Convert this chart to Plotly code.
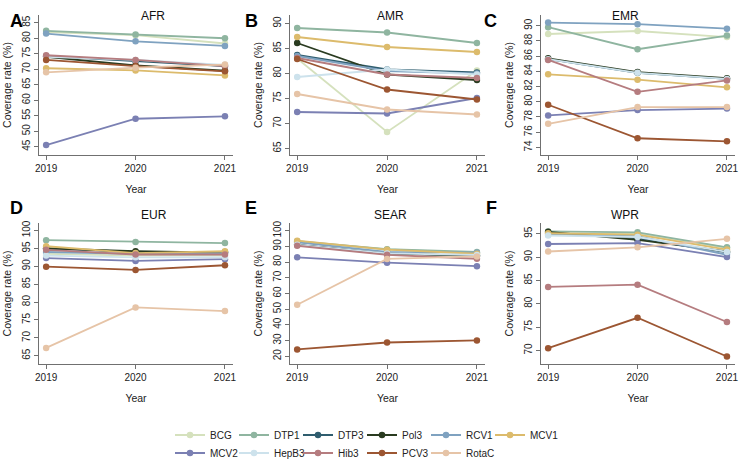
import plotly.graph_objects as go

years = [2019, 2020, 2021]
vaccines = ["BCG", "DTP1", "DTP3", "Pol3", "RCV1", "MCV1", "MCV2", "HepB3", "Hib3", "PCV3", "RotaC"]
colors = ["#d5e1bd", "#8fb5a0", "#2f5d6e", "#2a3b20", "#7fa2c0", "#dcbb6c",
          "#7b80b3", "#cde2ec", "#b57c7f", "#9c5632", "#e6c4a7"]
regions = ["AFR", "AMR", "EMR", "EUR", "SEAR", "WPR"]
letters = ["A", "B", "C", "D", "E", "F"]

# values per region, rows in the order of `vaccines`
AFR = [[82.0, 81.0, 78.3], [82.4, 81.2, 80.0], [74.2, 72.6, 71.0], [74.0, 71.2, 69.5],
       [81.5, 79.0, 77.5], [70.3, 69.6, 68.0], [45.5, 54.0, 54.8], [74.0, 73.0, 71.4],
       [74.5, 73.0, 71.0], [73.0, 71.0, 69.3], [69.0, 70.5, 71.5]]
AMR = [[83.0, 68.3, 80.6], [89.1, 88.2, 86.1], [83.7, 80.8, 80.2], [86.1, 79.8, 78.7],
       [83.5, 80.5, 80.0], [87.3, 85.3, 84.3], [72.3, 72.0, 75.1], [79.3, 80.8, 79.8],
       [83.1, 79.8, 79.1], [82.9, 76.8, 74.8], [75.9, 72.8, 71.8]]
EMR = [[88.9, 89.3, 88.5], [89.8, 86.9, 88.7], [85.6, 83.8, 83.0], [85.7, 83.9, 83.1],
       [90.4, 90.2, 89.6], [83.6, 82.9, 81.9], [78.2, 78.9, 79.1], [85.6, 83.8, 83.0],
       [85.5, 81.3, 82.8], [79.6, 75.2, 74.8], [77.1, 79.3, 79.3]]
EUR = [[93.5, 93.0, 93.0], [97.3, 96.8, 96.5], [95.0, 94.0, 94.0], [95.0, 94.2, 93.8],
       [94.0, 93.5, 93.7], [95.6, 93.7, 94.2], [92.3, 91.5, 92.0], [93.0, 92.5, 92.5],
       [94.6, 93.3, 93.3], [89.9, 89.0, 90.3], [67.2, 78.5, 77.5]]
SEAR = [[93.0, 88.0, 85.8], [93.3, 88.2, 86.4], [91.0, 85.5, 84.0], [91.0, 85.5, 84.0],
        [92.5, 86.5, 86.0], [93.6, 87.9, 85.3], [83.0, 79.6, 77.4], [91.0, 85.5, 84.5],
        [90.4, 84.6, 82.1], [24.3, 28.7, 30.0], [52.8, 82.0, 83.6]]
WPR = [[95.0, 95.0, 92.0], [95.5, 95.3, 92.1], [95.2, 94.0, 91.0], [95.4, 93.7, 91.2],
       [94.8, 94.5, 90.5], [95.1, 94.8, 91.6], [92.8, 93.0, 90.0], [94.6, 94.3, 91.1],
       [83.6, 84.1, 76.1], [70.5, 77.0, 68.7], [91.2, 92.1, 93.9]]
region_values = [AFR, AMR, EMR, EUR, SEAR, WPR]

y_ranges = [[42.3, 87.5], [63.7, 91.7], [73.0, 91.4], [62.7, 102.1], [15.0, 104.9], [67.1, 97.3]]
y_dticks = [5, 5, 2, 5, 10, 5]
y_tick0 = [45, 65, 74, 65, 20, 70]

W, H = 739, 471
x_dom_px = [(39, 233), (290, 485), (541, 735)]
y_dom_px = [(15, 155), (223, 364)]

FONT = "Liberation Sans, Arial, Helvetica, sans-serif"
fig = go.Figure()
annotations = []
for i, reg in enumerate(regions):
    r, c = divmod(i, 3)
    ax = "" if i == 0 else str(i + 1)
    x0, x1 = x_dom_px[c]
    yt, yb = y_dom_px[r]
    xdom = [x0 / W, x1 / W]
    ydom = [1 - yb / H, 1 - yt / H]
    vals = region_values[i]
    for k, vac in enumerate(vaccines):
        fig.add_trace(go.Scatter(
            x=years, y=vals[k], mode="lines+markers", name=vac,
            line=dict(color=colors[k], width=1.8),
            marker=dict(color=colors[k], size=6.5),
            xaxis="x" + ax, yaxis="y" + ax,
            showlegend=(i == 0),
            legend="legend" if k < 6 else "legend2",
            legendgroup=vac,
        ))
    axis_common = dict(showline=True, linecolor="#707070", linewidth=1, ticks="outside",
                       ticklen=4, tickcolor="#707070", showgrid=False, zeroline=False,
                       ticklabeloverflow="allow",
                       tickfont=dict(size=10, color="#222", family=FONT))
    fig.layout["xaxis" + ax] = dict(
        domain=xdom, anchor="y" + ax, range=[2018.92, 2021.09],
        tickvals=years, ticktext=[str(y) for y in years],
        title=dict(text="Year", font=dict(size=10.5, color="#222", family=FONT), standoff=12),
        **axis_common)
    fig.layout["yaxis" + ax] = dict(
        domain=ydom, anchor="x" + ax, range=y_ranges[i],
        tick0=y_tick0[i], dtick=y_dticks[i], tickangle=-90,
        title=dict(text="Coverage rate (%)", font=dict(size=10.5, color="#222", family=FONT), standoff=7),
        **axis_common)
    annotations.append(dict(text=reg, x=(xdom[0] + xdom[1]) / 2 + 3 / W, y=1 - (yt - 8) / H,
                            xref="paper", yref="paper", showarrow=False,
                            font=dict(size=12, color="#111", family=FONT)))
    lx = [8, 251, 499][c]
    ly = [9, 208][r]
    annotations.append(dict(text="<b>" + letters[i] + "</b>", x=lx / W, y=1 - ly / H,
                            xref="paper", yref="paper", showarrow=False,
                            font=dict(size=18, color="#000", family=FONT)))

# invisible spacer entries so the last legend labels are not clipped
for lg in ["legend", "legend2"]:
    fig.add_trace(go.Scatter(x=[None], y=[None], mode="lines", name=" ",
                             line=dict(color="rgba(0,0,0,0)", width=0),
                             legend=lg, showlegend=True, hoverinfo="skip"))

legend_common = dict(orientation="h", xanchor="left", yanchor="middle",
                     font=dict(size=10, color="#222", family=FONT),
                     entrywidth=19, entrywidthmode="pixels", bgcolor="rgba(0,0,0,0)",
                     tracegroupgap=0, itemclick=False, itemdoubleclick=False)
fig.update_layout(
    width=W, height=H, margin=dict(l=0, r=0, t=0, b=0, autoexpand=False),
    paper_bgcolor="white", plot_bgcolor="white",
    font=dict(family=FONT, color="#222"),
    annotations=annotations,
    legend=dict(x=170 / W, y=1 - 435 / H, **legend_common),
    legend2=dict(x=170 / W, y=1 - 453 / H, **legend_common),
)
fig.write_html("out.html", config={"displayModeBar": False},
               post_script="document.body.style.margin='0';")
